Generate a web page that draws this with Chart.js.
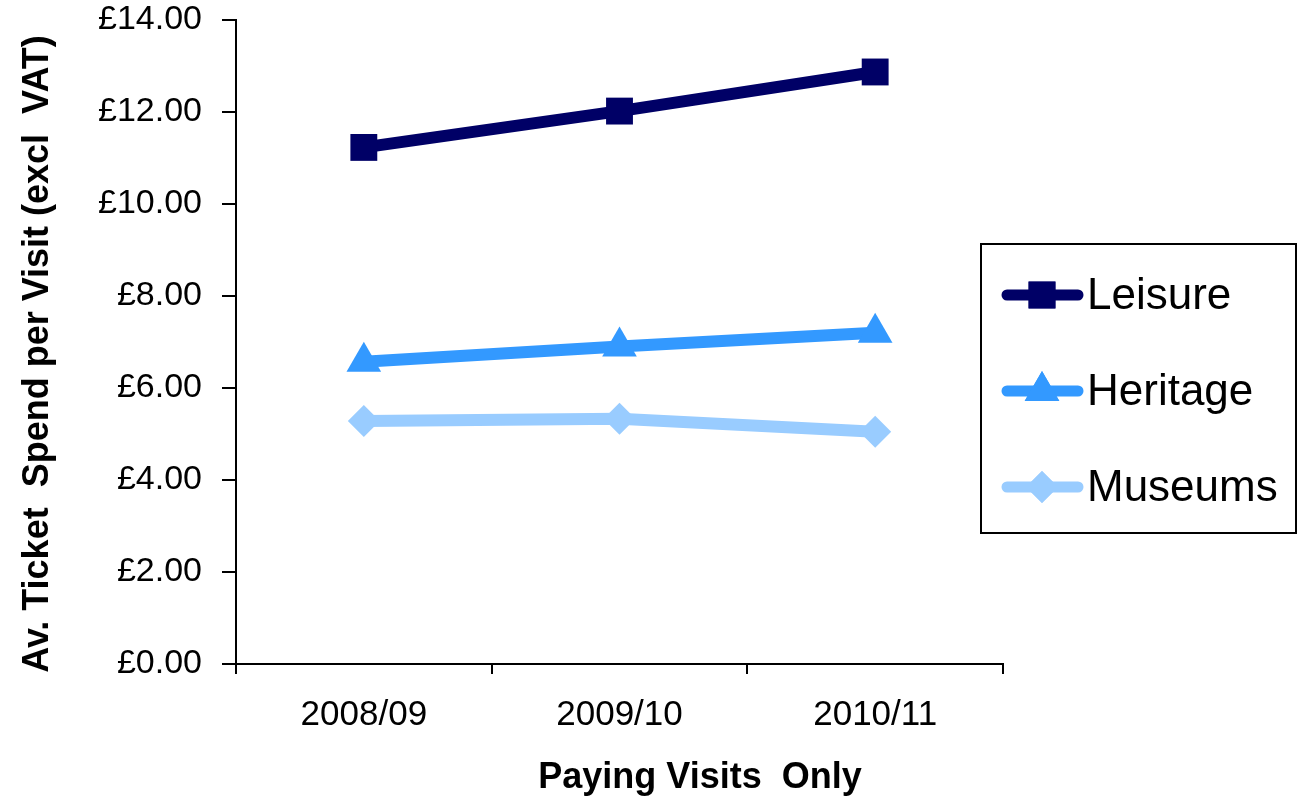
<!DOCTYPE html>
<html>
<head>
<meta charset="utf-8">
<script src="https://cdn.jsdelivr.net/npm/chart.js"></script>
<style>
  html, body { margin: 0; padding: 0; background: #fff; }
  #wrap { width: 1303px; height: 797px; }
</style>
</head>
<body>
<div id="wrap"><canvas id="chart" width="1303" height="797"></canvas></div>
<script>
const years = ['2008/09', '2009/10', '2010/11'];
const leisure = [11.23, 12.02, 12.87];
const heritage = [6.57, 6.90, 7.20];
const museums = [5.28, 5.33, 5.05];
const seriesNames = ['Leisure', 'Heritage', 'Museums'];
const seriesColors = ['#000066', '#3399ff', '#99ccff'];
const seriesMarkers = ['rect', 'triangle', 'rectRot'];
const markerSizes = [19, 20, 16];
const xTitle = 'Paying Visits  Only';
const yTitle = 'Av. Ticket  Spend per Visit (excl  VAT)';

const FONT = "'Liberation Sans', Arial, sans-serif";

// legend box + axis titles drawn by hand, excel style
const extras = {
  id: 'extras',
  afterDraw(chart) {
    const ctx = chart.ctx;
    ctx.save();
    ctx.fillStyle = '#000';
    ctx.font = 'bold 36px ' + FONT;
    ctx.textAlign = 'center';
    ctx.textBaseline = 'middle';
    ctx.fillText(xTitle, 700, 778);
    ctx.save();
    ctx.translate(38, 354);
    ctx.rotate(-Math.PI / 2);
    ctx.fillText(yTitle, 0, 0);
    ctx.restore();

    ctx.strokeStyle = '#000';
    ctx.lineWidth = 2;
    ctx.strokeRect(981, 244, 315, 289);
    chart.data.datasets.forEach((ds, i) => {
      const y = 295 + i * 96;
      ctx.strokeStyle = ds.borderColor;
      ctx.lineWidth = 11;
      ctx.lineCap = 'round';
      ctx.beginPath();
      ctx.moveTo(1007, y);
      ctx.lineTo(1078, y);
      ctx.stroke();
      ctx.fillStyle = ds.borderColor;
      Chart.helpers.drawPoint(ctx, {pointStyle: ds.pointStyle, radius: markerSizes[i], rotation: 0, borderWidth: 0}, 1042, y);
      ctx.fill();
      ctx.fillStyle = '#000';
      ctx.font = '44px ' + FONT;
      ctx.textAlign = 'left';
      ctx.fillText(ds.label, 1087, y + 2);
    });
    ctx.restore();
  }
};

const datasets = [leisure, heritage, museums].map((vals, i) => ({
  label: seriesNames[i],
  data: vals,
  borderColor: seriesColors[i],
  backgroundColor: seriesColors[i],
  borderWidth: 12,
  pointStyle: seriesMarkers[i],
  pointRadius: markerSizes[i],
  pointBorderWidth: 0,
  pointBackgroundColor: seriesColors[i],
  tension: 0
}));

new Chart(document.getElementById('chart'), {
  type: 'line',
  data: { labels: years, datasets: datasets },
  options: {
    responsive: false,
    animation: false,
    layout: { padding: { top: 20, right: 300, left: 0, bottom: 0 } },
    plugins: {
      legend: { display: false },
      tooltip: { enabled: false }
    },
    scales: {
      x: {
        offset: true,
        grid: { offset: true, drawOnChartArea: false, color: '#000', lineWidth: 2, tickLength: 10 },
        border: { color: '#000', width: 2 },
        ticks: { color: '#000', font: { family: FONT, size: 35 }, padding: 20, maxRotation: 0 },
        afterFit(scale) { scale.height = 133; }
      },
      y: {
        min: 0, max: 14,
        grid: { drawOnChartArea: false, color: '#000', lineWidth: 2, tickLength: 14 },
        border: { color: '#000', width: 2 },
        ticks: {
          stepSize: 2, color: '#000', padding: 20,
          font: { family: FONT, size: 34 },
          callback: v => '£' + v.toFixed(2)
        },
        afterFit(scale) {
          scale.width = 236;
          scale.paddingTop = 0;
          scale.paddingBottom = 0;
        }
      }
    }
  },
  plugins: [extras]
});
</script>
</body>
</html>
